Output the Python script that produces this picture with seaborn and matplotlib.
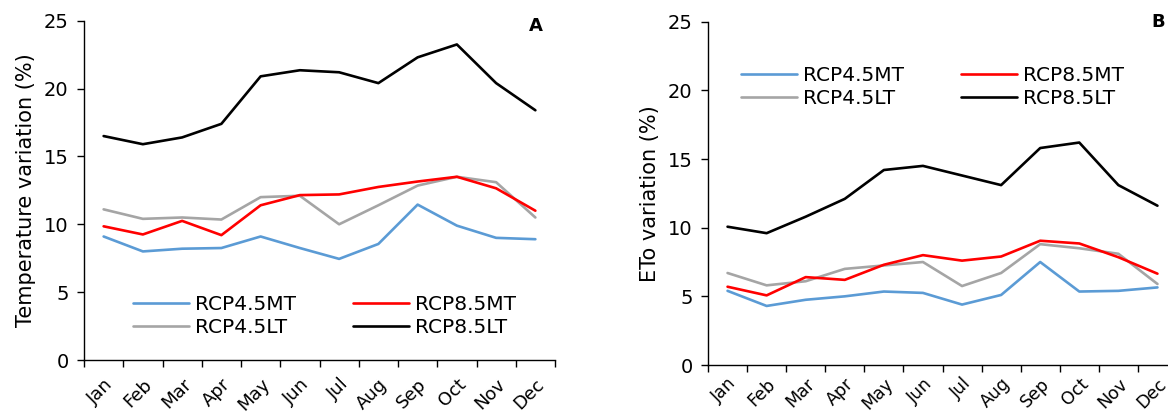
import numpy as np
import pandas as pd
import matplotlib
matplotlib.use('Agg')
import matplotlib.pyplot as plt
import seaborn as sns

sns.set_style('white')
plt.rcParams['font.family'] = ['DejaVu Sans']
plt.rcParams['text.color'] = 'black'
plt.rcParams['axes.labelcolor'] = 'black'
plt.rcParams['xtick.color'] = 'black'
plt.rcParams['ytick.color'] = 'black'

months = ['Jan', 'Feb', 'Mar', 'Apr', 'May', 'Jun',
          'Jul', 'Aug', 'Sep', 'Oct', 'Nov', 'Dec']
scenarios = ['RCP4.5MT', 'RCP4.5LT', 'RCP8.5MT', 'RCP8.5LT']

# Panel A - temperature variation (%)
temp_rcp45mt = [9.1, 8.0, 8.2, 8.25, 9.1, 8.25, 7.45, 8.55, 11.45, 9.9, 9.0, 8.9]
temp_rcp85mt = [9.85, 9.25, 10.25, 9.2, 11.4, 12.15, 12.2, 12.75, 13.15, 13.5, 12.65, 11.0]
temp_rcp45lt = [11.1, 10.4, 10.5, 10.35, 12.0, 12.1, 10.0, 11.4, 12.85, 13.5, 13.1, 10.5]
temp_rcp85lt = [16.5, 15.9, 16.4, 17.4, 20.9, 21.35, 21.2, 20.4, 22.3, 23.25, 20.4, 18.4]

# Panel B - ETo variation (%)
eto_rcp45mt = [5.4, 4.3, 4.75, 5.0, 5.35, 5.25, 4.4, 5.1, 7.5, 5.35, 5.4, 5.65]
eto_rcp85mt = [5.7, 5.07, 6.4, 6.2, 7.3, 8.0, 7.6, 7.9, 9.05, 8.85, 7.85, 6.65]
eto_rcp45lt = [6.7, 5.8, 6.1, 7.0, 7.25, 7.5, 5.75, 6.7, 8.8, 8.5, 8.1, 5.9]
eto_rcp85lt = [10.07, 9.6, 10.8, 12.1, 14.2, 14.5, 13.8, 13.1, 15.8, 16.2, 13.1, 11.6]

palette = {'RCP4.5MT': '#5B9BD5', 'RCP8.5MT': '#FF0000',
           'RCP4.5LT': '#A5A5A5', 'RCP8.5LT': '#000000'}


def long_df(s45mt, s45lt, s85mt, s85lt):
    rows = []
    for name, vals in zip(scenarios, [s45mt, s45lt, s85mt, s85lt]):
        for m, v in zip(months, vals):
            rows.append({'Month': m, 'Value': v, 'Scenario': name})
    return pd.DataFrame(rows)


df_a = long_df(temp_rcp45mt, temp_rcp45lt, temp_rcp85mt, temp_rcp85lt)
df_b = long_df(eto_rcp45mt, eto_rcp45lt, eto_rcp85mt, eto_rcp85lt)

fig = plt.figure(figsize=(11.68, 4.15), dpi=100)
ax_a = fig.add_axes([84 / 1168, 55 / 415, 471 / 1168, 339.3 / 415])
ax_b = fig.add_axes([708 / 1168, 50 / 415, 469 / 1168, 343.3 / 415])


def style_panel(ax, df, ylabel, letter, letter_xy, leg_anchor, mfont, mpad):
    sns.lineplot(data=df, x='Month', y='Value', hue='Scenario',
                 hue_order=scenarios, palette=palette, linewidth=1.9,
                 sort=False, ax=ax)
    ax.set_xlim(-0.5, 11.5)
    ax.set_ylim(0, 25)
    ax.set_yticks(np.arange(0, 26, 5))
    ax.set_xticks(np.arange(-0.5, 12, 1))
    ax.set_xticklabels([])
    ax.set_xticks(np.arange(12), minor=True)
    ax.set_xticklabels(months, minor=True, rotation=45, ha='right',
                       rotation_mode='anchor', fontsize=mfont)
    ax.tick_params(axis='x', which='major', length=5, width=1, direction='out',
                   bottom=True, color='black')
    ax.tick_params(axis='x', which='minor', length=0, pad=mpad)
    ax.tick_params(axis='y', length=5, width=1, direction='out', left=True,
                   labelsize=14, pad=6, color='black')
    for side in ['top', 'right']:
        ax.spines[side].set_visible(False)
    for side in ['left', 'bottom']:
        ax.spines[side].set_color('black')
        ax.spines[side].set_linewidth(1.0)
    ax.set_xlabel('')
    ax.set_ylabel(ylabel, fontsize=15, labelpad=6)
    ax.legend(ncol=2, frameon=False, fontsize=14.5, loc='center left',
              bbox_to_anchor=leg_anchor, handlelength=2.8, handletextpad=0.3,
              columnspacing=2.8, labelspacing=0.2, borderpad=0,
              borderaxespad=0)
    for line in ax.get_legend().get_lines():
        line.set_linewidth(1.9)
    ax.text(letter_xy[0], letter_xy[1], letter, transform=ax.transAxes,
            fontsize=13, fontweight='bold', ha='center', va='center')


style_panel(ax_a, df_a, 'Temperature variation (%)', 'A', (0.96, 0.985),
            (0.104, 0.13), 13, 11)
style_panel(ax_b, df_b, 'ETo variation (%)', 'B', (0.96, 1.0),
            (0.07, 0.81), 12.5, 7)

plt.savefig('out.png', dpi=100)
